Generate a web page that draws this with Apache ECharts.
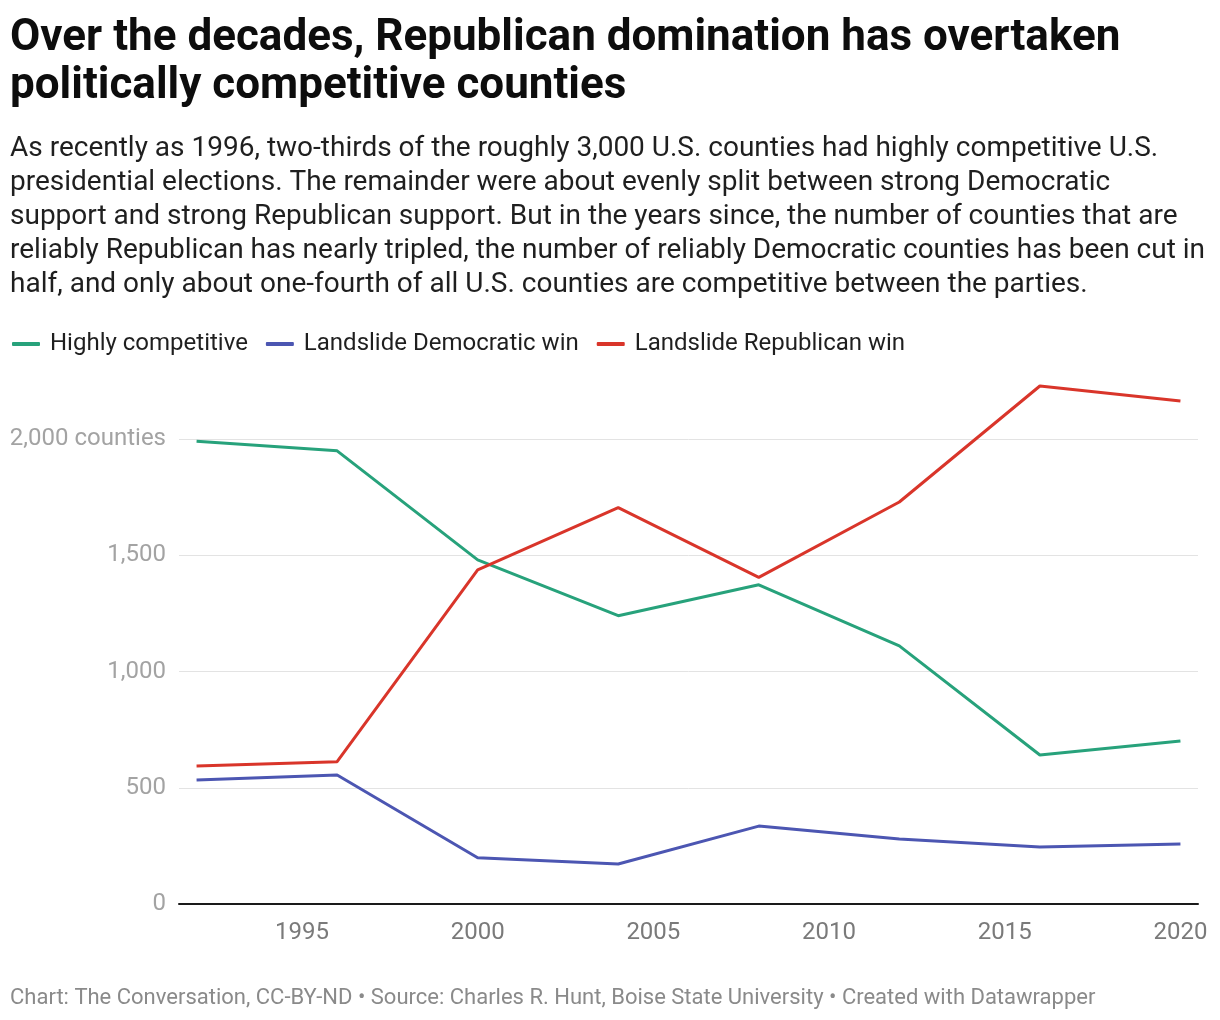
<!DOCTYPE html>
<html>
<head>
<meta charset="utf-8">
<script src="https://cdn.jsdelivr.net/npm/echarts@6/dist/echarts.min.js"></script>
<style>
html,body{margin:0;padding:0;background:#fff;}
#chart{width:1220px;height:1020px;}
</style>
</head>
<body>
<div id="chart"></div>
<script>
const years = [1992, 1996, 2000, 2004, 2008, 2012, 2016, 2020];
const highlyCompetitive = [1990, 1949, 1480, 1240, 1373, 1110, 641, 701];
const landslideDem = [533, 555, 199, 172, 335, 280, 245, 258];
const landslideRep = [594, 612, 1437, 1705, 1405, 1729, 2228, 2163];
const xTickLabels = [1995, 2000, 2005, 2010, 2015, 2020];
const yTicks = [0, 500, 1000, 1500, 2000];
const seriesNames = ['Highly competitive', 'Landslide Democratic win', 'Landslide Republican win'];
const colors = ['#27a27b', '#4c56b2', '#d9352a'];

const titleText = 'Over the decades, Republican domination has overtaken\npolitically competitive counties';
const subText = 'As recently as 1996, two-thirds of the roughly 3,000 U.S. counties had highly competitive U.S.\npresidential elections. The remainder were about evenly split between strong Democratic\nsupport and strong Republican support. But in the years since, the number of counties that are\nreliably Republican has nearly tripled, the number of reliably Democratic counties has been cut in\nhalf, and only about one-fourth of all U.S. counties are competitive between the parties.';
const footerText = 'Chart: The Conversation, CC-BY-ND \u2022 Source: Charles R. Hunt, Boise State University \u2022 Created with Datawrapper';

const FONT = 'Roboto';
function pairs(vals){ return years.map((y,i)=>[y, vals[i]]); }
function fmt(v){
  const s = String(v);
  return s.length > 3 ? s.slice(0, s.length-3) + ',' + s.slice(-3) : s;
}

const chart = echarts.init(document.getElementById('chart'), null, {renderer:'canvas'});
chart.setOption({
  backgroundColor: '#ffffff',
  animation: false,
  title: [
    {text: titleText, left: 10, top: 15, padding: 0,
     textStyle: {fontFamily: FONT, fontWeight: 'bold', fontSize: 44, lineHeight: 48, color: '#0d0d0d'}},
    {text: subText, left: 10, top: 132, padding: 0,
     textStyle: {fontFamily: FONT, fontWeight: 'normal', fontSize: 28, lineHeight: 34, color: '#1f1f1f'}},
    {text: footerText, left: 10, top: 986, padding: 0,
     textStyle: {fontFamily: FONT, fontWeight: 'normal', fontSize: 22, lineHeight: 24, color: '#8a8a8a'}}
  ],
  legend: {
    left: 12, top: 332, padding: 0, itemGap: 18,
    itemWidth: 28, itemHeight: 4, icon: 'roundRect',
    textStyle: {fontFamily: FONT, fontSize: 24, color: '#1f1f1f', padding: [0,0,0,5]},
    data: seriesNames
  },
  grid: {left: 179, right: 22, top: 439, bottom: 116, containLabel: false},
  xAxis: {
    type: 'value', min: 1991.5, max: 2020.5,
    axisLine: {show: true, lineStyle: {color: '#1a1a1a', width: 2}},
    axisTick: {show: false},
    splitLine: {show: false},
    axisLabel: {customValues: xTickLabels, fontFamily: FONT, fontSize: 24, color: '#7a7a7a', margin: 17,
      formatter: v => String(v)}
  },
  yAxis: {
    type: 'value', min: 0, max: 2000, interval: 500,
    axisLine: {show: false},
    axisTick: {show: false},
    splitLine: {show: true, lineStyle: {color: '#e3e3e3', width: 1}},
    axisLabel: {fontFamily: FONT, fontSize: 24, color: '#a3a3a3', margin: 13,
      formatter: v => v === 2000 ? '2,000 counties' : fmt(v)}
  },
  series: [
    {name: seriesNames[0], type: 'line', data: pairs(highlyCompetitive), color: colors[0], clip: false,
     showSymbol: false, symbol: 'none', lineStyle: {width: 3, color: colors[0]}},
    {name: seriesNames[1], type: 'line', data: pairs(landslideDem), color: colors[1], clip: false,
     showSymbol: false, symbol: 'none', lineStyle: {width: 3, color: colors[1]}},
    {name: seriesNames[2], type: 'line', data: pairs(landslideRep), color: colors[2], clip: false,
     showSymbol: false, symbol: 'none', lineStyle: {width: 3, color: colors[2]}}
  ]
});
</script>
</body>
</html>
